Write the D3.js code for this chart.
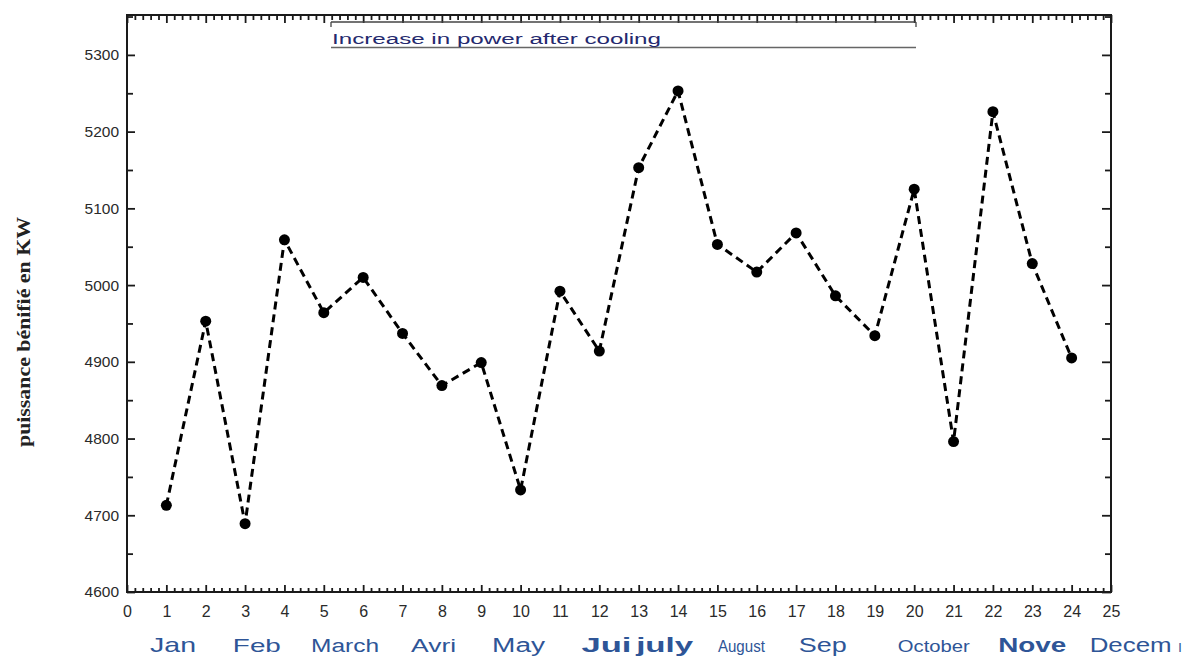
<!DOCTYPE html>
<html>
<head>
<meta charset="utf-8">
<script src="https://cdn.jsdelivr.net/npm/d3@7"></script>
<style>
  html, body { margin: 0; padding: 0; background: #fff; }
  svg { display: block; }
</style>
</head>
<body>
<svg id="chart" width="1200" height="661"></svg>
<script>
// ---- data ----
const months = [1,2,3,4,5,6,7,8,9,10,11,12,13,14,15,16,17,18,19,20,21,22,23,24];
const power = [4713,4953,4689,5059,4964,5010,4937,4869,4899,4733,4992,4914,
               5153,5253,5053,5017,5068,4986,4934,5125,4796,5226,5028,4905];
const xTickValues = d3.range(0, 26, 1);
const yTickValues = [4600,4700,4800,4900,5000,5100,5200,5300];
const monthNames = ["Jan","Feb","March","Avri","May","Jui","july","August","Sep","October","Nove","Decem","ı"];
const titleText = "Increase in power after cooling";
const yLabel = "puissance bénifié en KW";

// ---- layout / styles ----
const margin = {left: 127, right: 89, top: 15, bottom: 69};
const W = 1200, H = 661;
const svg = d3.select("#chart");

const x = d3.scaleLinear().domain([0, 25]).range([margin.left, W - margin.right]);
const y = d3.scaleLinear().domain([4600, 5352]).range([H - margin.bottom, margin.top]);

const axisColor = "#1a1a1a";
const textColor = "#2a2a2a";

// minor tick values
const xMinor = d3.range(0, 25.001, 0.2).filter(v => Math.abs(v - Math.round(v)) > 1e-6);
const yMinor = d3.range(4650, 5352, 100);

function styleAxis(g) {
  g.select(".domain").remove();
  g.selectAll(".tick line").attr("stroke", axisColor).attr("stroke-width", 1.8);
}

// bottom axis
svg.append("g").attr("transform", `translate(0,${y(4600)})`)
  .call(d3.axisBottom(x).tickValues(xTickValues).tickSize(-7).tickPadding(14).tickFormat(d3.format("d")))
  .call(styleAxis)
  .call(g => g.selectAll("text").attr("font-family", "Liberation Sans, Arial, sans-serif")
      .attr("font-size", 16).attr("fill", textColor));
svg.append("g").attr("transform", `translate(0,${y(4600)})`)
  .call(d3.axisBottom(x).tickValues(xMinor).tickSize(-4).tickFormat(""))
  .call(styleAxis);

// top axis
svg.append("g").attr("transform", `translate(0,${margin.top})`)
  .call(d3.axisTop(x).tickValues(xTickValues).tickSize(-8).tickFormat(""))
  .call(styleAxis);
svg.append("g").attr("transform", `translate(0,${margin.top})`)
  .call(d3.axisTop(x).tickValues(xMinor).tickSize(-5).tickFormat(""))
  .call(styleAxis);

// left axis
svg.append("g").attr("transform", `translate(${margin.left},0)`)
  .call(d3.axisLeft(y).tickValues(yTickValues).tickSize(-8).tickPadding(8).tickFormat(d3.format("d")))
  .call(styleAxis)
  .call(g => g.selectAll("text").attr("font-family", "Liberation Sans, Arial, sans-serif")
      .attr("font-size", 15.5).attr("fill", textColor));
svg.append("g").attr("transform", `translate(${margin.left},0)`)
  .call(d3.axisLeft(y).tickValues(yMinor).tickSize(-6).tickFormat(""))
  .call(styleAxis);

// right axis
svg.append("g").attr("transform", `translate(${W - margin.right},0)`)
  .call(d3.axisRight(y).tickValues(yTickValues).tickSize(-9).tickFormat(""))
  .call(styleAxis);
svg.append("g").attr("transform", `translate(${W - margin.right},0)`)
  .call(d3.axisRight(y).tickValues(yMinor).tickSize(-6).tickFormat(""))
  .call(styleAxis);

// frame
svg.append("rect")
  .attr("x", x(0)).attr("y", y(5352))
  .attr("width", x(25) - x(0)).attr("height", y(4600) - y(5352))
  .attr("fill", "none").attr("stroke", axisColor).attr("stroke-width", 2);

// legend / title box
const lx0 = 331, lx1 = 916;
svg.append("line").attr("x1", lx0).attr("x2", lx1).attr("y1", 22).attr("y2", 22)
  .attr("stroke", "#444").attr("stroke-width", 1.3);
svg.append("line").attr("x1", lx0).attr("x2", lx1).attr("y1", 47.5).attr("y2", 47.5)
  .attr("stroke", "#666").attr("stroke-width", 1.3);
svg.append("line").attr("x1", lx0).attr("x2", lx0).attr("y1", 22).attr("y2", 27)
  .attr("stroke", "#444").attr("stroke-width", 1.3);
svg.append("line").attr("x1", lx1).attr("x2", lx1).attr("y1", 22).attr("y2", 27)
  .attr("stroke", "#444").attr("stroke-width", 1.3);
svg.append("text").attr("x", 332).attr("y", 43.5)
  .attr("font-family", "Liberation Sans, Arial, sans-serif").attr("font-size", 15.5)
  .attr("fill", "#24286e").attr("textLength", 329).attr("lengthAdjust", "spacingAndGlyphs")
  .text(titleText);

// y label
svg.append("text")
  .attr("transform", `translate(30,332) rotate(-90)`)
  .attr("text-anchor", "middle")
  .attr("font-family", "Liberation Serif, Times New Roman, serif")
  .attr("font-size", 18).attr("font-weight", "bold").attr("fill", "#222")
  .attr("textLength", 230).attr("lengthAdjust", "spacingAndGlyphs")
  .text(yLabel);

// data line
const line = d3.line().x((d, i) => x(months[i])).y(d => y(d));
svg.append("path").datum(power)
  .attr("d", line).attr("fill", "none")
  .attr("stroke", "#000").attr("stroke-width", 3)
  .attr("stroke-dasharray", "8,5");

svg.selectAll("circle.pt").data(power).enter().append("circle")
  .attr("class", "pt")
  .attr("cx", (d, i) => x(months[i])).attr("cy", d => y(d))
  .attr("r", 5.5).attr("fill", "#000");

// month labels (layout config separate from data)
const monthLayout = [
  {pos: 1.17, size: 21, w: 46, weight: "normal"},
  {pos: 3.30, size: 19, w: 48, weight: "normal"},
  {pos: 5.54, size: 18, w: 68, weight: "normal"},
  {pos: 7.79, size: 19, w: 45, weight: "normal"},
  {pos: 9.95, size: 20, w: 53, weight: "normal"},
  {pos: 12.18, size: 21, w: 50, weight: "bold"},
  {pos: 13.66, size: 21, w: 57, weight: "bold"},
  {pos: 15.61, size: 16, w: 47, weight: "normal"},
  {pos: 17.68, size: 20, w: 48, weight: "normal"},
  {pos: 20.50, size: 16, w: 72, weight: "normal"},
  {pos: 23.00, size: 21, w: 68, weight: "bold"},
  {pos: 25.50, size: 20, w: 82, weight: "normal"},
  {pos: 26.75, size: 16, w: 4, weight: "normal"}
];
svg.append("g").selectAll("text").data(monthNames).enter().append("text")
  .attr("x", (d, i) => x(monthLayout[i].pos))
  .attr("y", 652)
  .attr("text-anchor", "middle")
  .attr("font-family", "Liberation Sans, Arial, sans-serif")
  .attr("font-size", (d, i) => monthLayout[i].size)
  .attr("font-weight", (d, i) => monthLayout[i].weight)
  .attr("fill", "#2e5597")
  .attr("textLength", (d, i) => monthLayout[i].w)
  .attr("lengthAdjust", "spacingAndGlyphs")
  .text(d => d);
</script>
</body>
</html>
